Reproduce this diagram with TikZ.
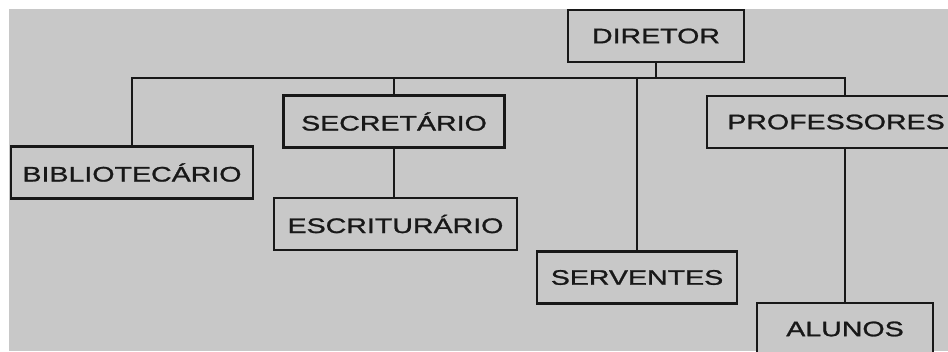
\documentclass[tikz,border=0pt]{standalone}
\usepackage{fontspec}
\setmainfont[FakeStretch=1.36,FakeBold=1.2]{Liberation Sans}
\usepackage{tikz}

\definecolor{scan}{RGB}{200,200,200}
\definecolor{ink}{RGB}{24,24,24}

\begin{document}
\begin{tikzpicture}[x=1pt,y=-1pt,
    cargo/.style={draw=ink,fill=scan,line width=2.8pt,minimum height=52pt,
        text=ink,font=\fontsize{21}{25}\selectfont,inner sep=0pt},
    link/.style={draw=ink,line width=2.8pt}]
    \useasboundingbox (0,0) rectangle (948,351);
    \fill[white] (0,0) rectangle (948,351);
    \fill[scan] (9,9) rectangle (948,351);
    \clip (9,9) rectangle (948,351);
    \node[cargo,minimum width=176pt] (dir) at (656,36) {DIRETOR};
    \node[cargo,minimum width=242pt] (bib) at (132,172.5) {BIBLIOTECÁRIO};
    \node[cargo,minimum width=221pt] (sec) at (394,121.5) {SECRETÁRIO};
    \node[cargo,minimum width=243pt] (esc) at (395.5,224) {ESCRITURÁRIO};
    \node[cargo,minimum width=200pt] (serv) at (637,277.5) {SERVENTES};
    \node[cargo,minimum width=258pt] (prof) at (836,122) {PROFESSORES};
    \node[cargo,minimum width=176pt] (alun) at (845,329) {ALUNOS};
    \coordinate (bus) at (656,78);
    \draw[link] (dir.south) -- (bus);
    \draw[link] (bib.north) |- (bus) -| (prof.north -| alun.north);
    \draw[link] (sec.north) -- (sec.north |- bus);
    \draw[link] (serv.north) -- (serv.north |- bus);
    \draw[link] (sec.south) -- (sec.south |- esc.north);
    \draw[link] (prof.south -| alun.north) -- (alun.north);
\end{tikzpicture}
\end{document}
